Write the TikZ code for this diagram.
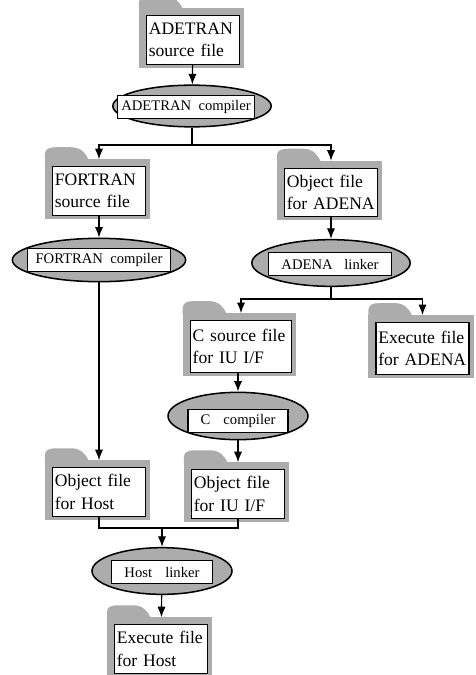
\documentclass[tikz,border=0pt]{standalone}
\usepackage{fontspec}
\setmainfont{Liberation Serif}
\usetikzlibrary{shapes.geometric,arrows.meta,calc,backgrounds}

\tikzset{
  >={Latex[length=9pt,width=7pt]},
  file/.style={draw,line width=1pt,fill=white,align=left,inner sep=2pt,text width=2.65cm,minimum height=1.45cm,font=\fontsize{15}{19}\selectfont},
  tool/.style={draw,line width=1.3pt,ellipse,fill=gray!65,inner sep=0pt},
  toolname/.style={draw,line width=1pt,fill=white,inner sep=2pt,minimum height=0.68cm,font=\fontsize{12.5}{14}\selectfont},
  folder/.style={fill=gray!65},
  flow/.style={line width=1pt},
}

\begin{document}
\begin{tikzpicture}[x=0.03cm,y=-0.03cm]
    \useasboundingbox (0,0) rectangle (475,675);

    % files
    \node[file](adesrc) at (193,40) {ADETRAN\\source file};
    \node[file](fortsrc) at (99,191) {FORTRAN\\source file};
    \node[file](objadena) at (331,192.5) {Object file\\for ADENA};
    \node[file,text width=2.9cm,minimum height=1.55cm](csrc) at (241,346.5) {C source file\\for IU I/F};
    \node[file,minimum height=1.55cm](exeadena) at (422.5,348.5) {Execute file\\for ADENA};
    \node[file](objhost) at (99,492) {Object file\\for Host};
    \node[file](objiu) at (238,494) {Object file\\for IU I/F};
    \node[file](exehost) at (161,649) {Execute file\\for Host};

    % tools
    \node[tool,minimum width=4.75cm,minimum height=1.25cm](adecomp) at (192,106) {};
    \node[toolname,minimum width=4.1cm](adecompl) at (186,107) {ADETRAN\ \ compiler};
    \node[tool,minimum width=5.2cm,minimum height=1.3cm](fortcomp) at (99,260) {};
    \node[toolname,minimum width=4.3cm](fortcompl) at (99,260) {FORTRAN\ \ compiler};
    \node[tool,minimum width=4.75cm,minimum height=1.4cm](adenalink) at (331,263) {};
    \node[toolname,minimum width=3.7cm](adenalinkl) at (330,264) {ADENA\hspace{0.8em}linker};
    \node[tool,minimum width=4.2cm,minimum height=1.42cm](ccomp) at (238,416) {};
    \node[toolname,minimum width=3cm](ccompl) at (238,421) {C\hspace{0.9em}compiler};
    \node[tool,minimum width=4.2cm,minimum height=1.4cm](hostlink) at (162,571) {};
    \node[toolname,minimum width=3.05cm](hostlinkl) at (162,572) {Host\hspace{0.9em}linker};

    % folder backs
    \begin{pgfonlayer}{background}
    \foreach \f in {adesrc,fortsrc,objadena,csrc,exeadena,objhost,objiu,exehost}{
        \fill[folder] ($(\f.north west)+(-7,-7)$) rectangle ($(\f.south east)+(4,3)$);
        \fill[folder,shift={($(\f.north west)+(-7,-7)$)}] (0,1) -- (0,-5) .. controls (0,-10) and (4,-12) .. (11,-12) -- (26,-12) .. controls (36,-12) and (41,-6) .. (44,1) -- cycle;
    }
    \end{pgfonlayer}

    \coordinate (split1) at (192,145);
    \coordinate (split2) at (331,299);
    \coordinate (join) at (162,528);

    \draw [->,flow] (adesrc) -- (adecomp);
    \draw [flow] (adecomp) -- (split1);
    \draw [->,flow,shorten >=0.21cm] (split1) -| (fortsrc);
    \draw [->,flow,shorten >=0.21cm] (split1) -| (objadena);

    \draw [->,flow] (fortsrc) -- (fortcomp);
    \draw [->,flow,shorten >=0.21cm] (fortcomp) -- (objhost);

    \draw [->,flow] (objadena) -- (adenalink);
    \draw [flow] (adenalink) -- (split2);
    \draw [->,flow,shorten >=0.21cm] (split2) -| (csrc);
    \draw [->,flow,shorten >=0.21cm] (split2) -| (exeadena);
    \draw [->,flow] (csrc.south -| ccomp) -- (ccomp);
    \draw [->,flow,shorten >=0.21cm] (ccomp) -- (objiu);

    \draw [flow] (objhost) |- (join) -| (objiu);
    \draw [->,flow] (join) -- (hostlink);
    \draw [->,flow,shorten >=0.21cm] (hostlink) -- (exehost);
\end{tikzpicture}
\end{document}
